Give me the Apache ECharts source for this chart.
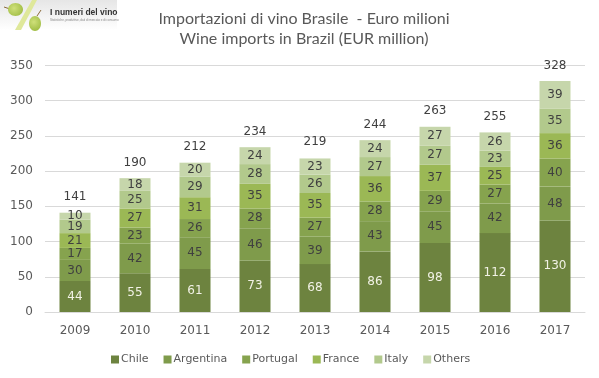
<!DOCTYPE html>
<html>
<head>
<meta charset="utf-8">
<style>
  html, body { margin: 0; padding: 0; background: #fff; }
  #chart { width: 599px; height: 378px; }
</style>
<script src="https://cdn.jsdelivr.net/npm/echarts@6/dist/echarts.min.js"></script>
</head>
<body>
<div id="chart"></div>
<script>
const years     = ['2009', '2010', '2011', '2012', '2013', '2014', '2015', '2016', '2017']
const chile     = [44, 55, 61, 73, 68, 86, 98, 112, 130]
const argentina = [30, 42, 45, 46, 39, 43, 45, 42, 48]
const portugal  = [17, 23, 26, 28, 27, 28, 29, 27, 40]
const france    = [21, 27, 31, 35, 35, 36, 37, 25, 36]
const italy     = [19, 25, 29, 28, 26, 27, 27, 23, 35]
const others    = [10, 18, 20, 24, 23, 24, 27, 26, 39]
const totals    = [141, 190, 212, 234, 219, 244, 263, 255, 328]

const names  = ['Chile', 'Argentina', 'Portugal', 'France', 'Italy', 'Others']
const values = [chile, argentina, portugal, france, italy, others]
const colors = ['#6d833f', '#7f9b4b', '#86a34e', '#9bb855', '#b2c98c', '#c6d6ab']

const labelFont = 'DejaVu Sans'
const chart = echarts.init(document.getElementById('chart'), null, { renderer: 'canvas' })

const grape = () => new echarts.graphic.RadialGradient(0.4, 0.4, 0.7, [
  { offset: 0, color: '#cfe07a' }, { offset: 1, color: '#a3bf48' },
])

const series = names.map((name, i) => ({
  name,
  type: 'bar',
  stack: 'imports',
  barWidth: 31,
  data: values[i],
  itemStyle: { color: colors[i] },
  label: {
    show: true,
    position: 'inside',
    fontFamily: labelFont,
    fontSize: 12,
    color: i === 0 ? '#f2f2e6' : '#404040',
  },
}))

// totals sit above the stack, line and symbol are hidden
series.push({
  name: 'Total',
  type: 'line',
  data: totals,
  symbol: 'circle',
  symbolSize: 1,
  itemStyle: { color: 'transparent' },
  lineStyle: { width: 0 },
  label: {
    show: true,
    position: 'top',
    distance: 9,
    fontFamily: labelFont,
    fontSize: 12,
    color: '#404040',
  },
})

chart.setOption({
  animation: false,
  backgroundColor: '#ffffff',
  textStyle: { fontFamily: labelFont },
  title: {
    text: 'Importazioni di vino Brasile  - Euro milioni\nWine imports in Brazil (EUR million)',
    left: 299,
    top: 4,
    textAlign: 'center',
    textStyle: {
      fontFamily: 'Lato',
      fontSize: 16,
      fontWeight: 'normal',
      lineHeight: 20,
      color: '#595959',
    },
  },
  legend: {
    data: names,
    left: 106,
    top: 349,
    icon: 'rect',
    itemWidth: 8,
    itemHeight: 8,
    itemGap: 15,
    textStyle: { fontFamily: labelFont, fontSize: 11, color: '#595959', padding: [0, 0, 0, -3] },
  },
  grid: { left: 45, right: 14, top: 65.5, bottom: 66, containLabel: false },
  xAxis: {
    type: 'category',
    data: years,
    axisTick: { show: false },
    axisLine: { lineStyle: { color: '#d9d9d9', width: 1 } },
    axisLabel: { fontFamily: labelFont, fontSize: 12, color: '#595959', margin: 13 },
  },
  yAxis: {
    type: 'value',
    min: 0,
    max: 350,
    interval: 50,
    axisLine: { show: false },
    axisTick: { show: false },
    axisLabel: { fontFamily: labelFont, fontSize: 12, color: '#595959', margin: 12 },
    splitLine: { lineStyle: { color: '#d9d9d9', width: 1 } },
  },
  series,
  graphic: [
    { type: 'rect', shape: { x: 0, y: 0, width: 117, height: 30 }, style: {
      fill: new echarts.graphic.LinearGradient(0, 0, 0, 1, [
        { offset: 0, color: '#e6e6e6' }, { offset: 1, color: '#ffffff' },
      ]) } },
    { type: 'polygon', shape: { points: [[15, 30], [32, 0], [37, 0], [21, 30]] }, style: { fill: '#dfe89a' } },
    { type: 'line', shape: { x1: 4, y1: 7, x2: 10, y2: 9 }, style: { stroke: '#8a6a3a', lineWidth: 1 } },
    { type: 'line', shape: { x1: 41, y1: 10, x2: 37, y2: 16 }, style: { stroke: '#8a6a3a', lineWidth: 1 } },
    { type: 'ellipse', shape: { cx: 15.5, cy: 9.5, rx: 7.5, ry: 6.5 }, style: { fill: grape() } },
    { type: 'ellipse', shape: { cx: 35, cy: 23.5, rx: 6, ry: 7.5 }, style: { fill: grape() } },
    { type: 'text', style: { x: 50, y: 8, text: 'I numeri del vino', font: 'bold 8.5px "Liberation Sans"', fill: '#333333' } },
    { type: 'text', style: { x: 50, y: 19, text: 'Statistiche, produttive, dati di mercato e di consumo', font: '3px "Liberation Sans"', fill: '#888888' } },
  ],
})
</script>
</body>
</html>
